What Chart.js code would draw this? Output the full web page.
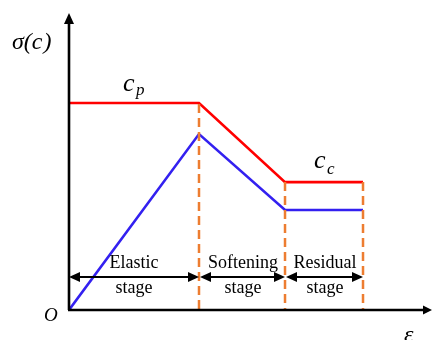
<!DOCTYPE html>
<html>
<head>
<meta charset="utf-8">
<script src="https://cdn.jsdelivr.net/npm/chart.js@4/dist/chart.umd.min.js"></script>
<style>
  html, body { margin: 0; padding: 0; background: #fff; }
  #wrap { width: 432px; height: 340px; }
</style>
</head>
<body>
<div id="wrap"><canvas id="c" width="432" height="340"></canvas></div>
<script>
// Strain at stage boundaries: origin, peak, start of residual, end of residual
const strainPoints = [0, 3.0, 4.985, 6.785];
// Strength envelope c (upper curve) and stress response sigma (lower curve)
const strengthValues = [1.0, 1.0, 0.618, 0.618];
const stressValues = [0, 0.85, 0.483, 0.483];
// Stage labels, one pair of lines per stage
const stageLabels = [['Elastic', 'stage'], ['Softening', 'stage'], ['Residual', 'stage']];
// Axis extents
const strainMax = 8.354;
const stressMax = 1.435;
// Height of the stage dimension arrows
const stageArrowLevel = 0.16;

const RED = '#ff0000';
const BLUE = '#3320f0';
const ORANGE = '#ed7d31';
const SERIF = '"Liberation Serif", "DejaVu Serif", serif';

const curve = (vals) => strainPoints.map((x, i) => ({ x, y: vals[i] }));

// Dashed boundaries between stages, dropping from the strength curve to the axis
const boundaries = strainPoints.slice(1).map((x, i) => ({
  data: [{ x, y: strengthValues[i + 1] - (i === 0 ? 0.005 : 0) }, { x, y: 0 }],
  borderColor: ORANGE,
  borderWidth: 2.5,
  borderDash: [9, 5],
  pointRadius: 0,
  showLine: true,
  fill: false
}));

function arrowHead(ctx, tipX, tipY, dir, len, half) {
  // dir: 1 = points right, -1 = left, 'up' = points up
  ctx.beginPath();
  if (dir === 'up') {
    ctx.moveTo(tipX, tipY);
    ctx.lineTo(tipX - half, tipY + len);
    ctx.lineTo(tipX + half, tipY + len);
  } else {
    ctx.moveTo(tipX, tipY);
    ctx.lineTo(tipX - dir * len, tipY - half);
    ctx.lineTo(tipX - dir * len, tipY + half);
  }
  ctx.closePath();
  ctx.fill();
}

const annotate = {
  id: 'annotate',
  afterDatasetsDraw(chart) {
    const { ctx, chartArea: a, scales: { x, y } } = chart;
    const x0 = x.getPixelForValue(0);
    const y0 = y.getPixelForValue(0);
    ctx.save();
    ctx.fillStyle = '#000';
    ctx.strokeStyle = '#000';

    // Axes with arrowheads
    ctx.lineWidth = 2.6;
    ctx.beginPath();
    ctx.moveTo(x0, y0);
    ctx.lineTo(x0, a.top + 8);
    ctx.moveTo(x0 - 1, y0);
    ctx.lineTo(a.right - 6, y0);
    ctx.stroke();
    arrowHead(ctx, x0, a.top, 'up', 11, 5);
    arrowHead(ctx, a.right + 1, y0, 1, 9, 4.5);

    // Stage dimension arrows
    const ay = y.getPixelForValue(stageArrowLevel);
    ctx.lineWidth = 2;
    for (let i = 0; i < stageLabels.length; i++) {
      const xa = x.getPixelForValue(strainPoints[i]);
      const xb = x.getPixelForValue(strainPoints[i + 1]);
      ctx.beginPath();
      ctx.moveTo(xa + 6, ay);
      ctx.lineTo(xb - 6, ay);
      ctx.stroke();
      arrowHead(ctx, xa + (i === 0 ? 0 : 1), ay, -1, 11, 5);
      arrowHead(ctx, xb, ay, 1, 11, 5);

      const cx = (xa + xb) / 2 + (i === 0 ? 0 : 1);
      ctx.font = '18px ' + SERIF;
      ctx.textAlign = 'center';
      ctx.textBaseline = 'alphabetic';
      ctx.fillText(stageLabels[i][0], cx, ay - 9);
      ctx.fillText(stageLabels[i][1], cx, ay + 16);
    }

    // Axis titles and curve labels
    ctx.textAlign = 'left';
    ctx.textBaseline = 'alphabetic';
    ctx.font = 'italic 24px ' + SERIF;
    ctx.fillText('\u03c3(', 12, 49);
    let w = ctx.measureText('\u03c3(').width;
    ctx.fillText('c', 12 + w, 49);
    w += ctx.measureText('c').width;
    ctx.fillText(')', 12 + w + 1, 49);

    ctx.font = 'italic 19px ' + SERIF;
    ctx.fillText('O', 44, 321);

    ctx.font = 'italic 24px ' + SERIF;
    ctx.fillText('\u03b5', 404, 342);

    // c_p above the peak strength plateau
    ctx.font = 'italic 26px ' + SERIF;
    ctx.fillText('c', 123, 91);
    ctx.font = 'italic 17px ' + SERIF;
    ctx.fillText('p', 136, 95);

    // c_c above the residual strength plateau
    ctx.font = 'italic 26px ' + SERIF;
    ctx.fillText('c', 314, 168);
    ctx.font = 'italic 17px ' + SERIF;
    ctx.fillText('c', 327, 174);

    ctx.restore();
  }
};

new Chart(document.getElementById('c'), {
  type: 'scatter',
  data: {
    datasets: [
      ...boundaries,
      {
        data: curve(strengthValues),
        borderColor: RED,
        borderWidth: 2.6,
        pointRadius: 0,
        showLine: true,
        fill: false
      },
      {
        data: curve(stressValues),
        borderColor: BLUE,
        borderWidth: 2.6,
        pointRadius: 0,
        showLine: true,
        fill: false
      }
    ]
  },
  options: {
    responsive: false,
    animation: false,
    events: [],
    layout: { padding: { left: 69, right: 1, top: 13, bottom: 30 } },
    plugins: { legend: { display: false }, tooltip: { enabled: false } },
    scales: {
      x: { type: 'linear', min: 0, max: strainMax, display: false },
      y: { type: 'linear', min: 0, max: stressMax, display: false }
    }
  },
  plugins: [annotate]
});
</script>
</body>
</html>
